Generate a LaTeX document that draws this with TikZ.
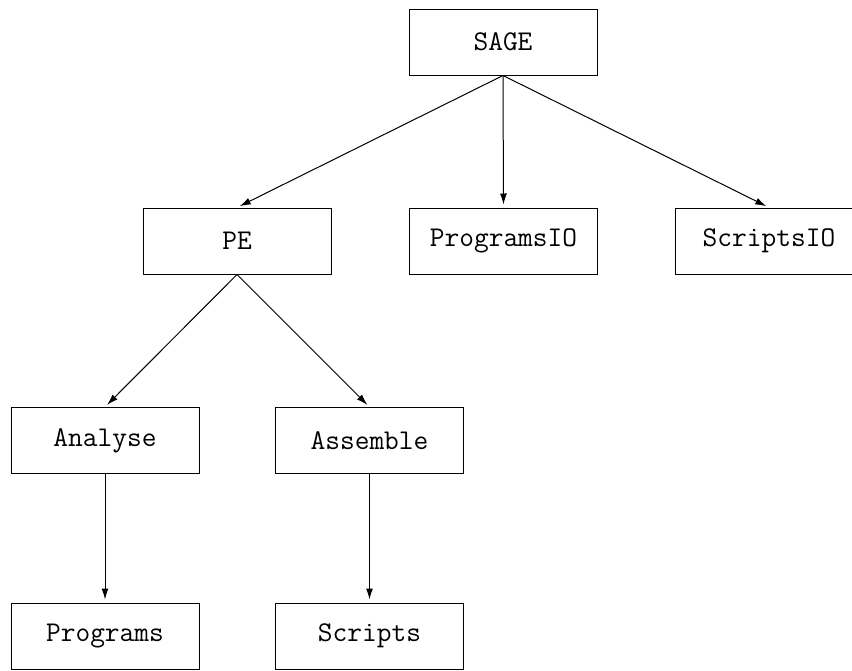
\documentclass[tikz,border=0pt]{standalone}
\usetikzlibrary{arrows.meta}
\begin{document}
\begin{tikzpicture}[x=1pt,y=-1pt,
  box/.style={draw, line width=1pt, rectangle, minimum width=188pt, minimum height=66pt, inner sep=0pt,
    font=\fontsize{28.6}{34}\selectfont\ttfamily},
  conn/.style={line width=1pt, -{Latex[length=11pt,width=7pt]}, shorten >=3pt}]
\useasboundingbox (0,0) rectangle (852,670);
\node[box] (sage) at (503,42) {SAGE};
\node[box] (pe) at (237,241) {PE};
\node[box] (pio) at (503.5,241) {ProgramsIO};
\node[box] (sio) at (769,241) {ScriptsIO};
\node[box] (an) at (105,440.5) {Analyse};
\node[box] (as) at (369.5,440.5) {Assemble};
\node[box] (pr) at (105,636) {Programs};
\node[box] (sc) at (369.5,636) {Scripts};
\draw[conn] (sage.south) -- (pe.north);
\draw[conn] (sage.south) -- (pio.north);
\draw[conn] (sage.south) -- (sio.north);
\draw[conn] (pe.south) -- (an.north);
\draw[conn] (pe.south) -- (as.north);
\draw[conn] (an.south) -- (pr.north);
\draw[conn] (as.south) -- (sc.north);
\end{tikzpicture}
\end{document}
